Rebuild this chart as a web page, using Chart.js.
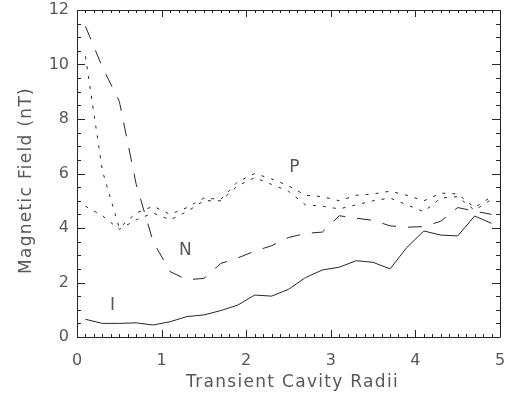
<!DOCTYPE html>
<html>
<head>
<meta charset="utf-8">
<script src="https://cdn.jsdelivr.net/npm/chart.js@4.4.1/dist/chart.umd.min.js"></script>
<style>
  html, body { margin: 0; padding: 0; background: #ffffff; overflow: hidden; }
  #wrap { width: 508px; height: 396px; position: relative; }
  canvas { display: block; }
</style>
</head>
<body>
<div id="wrap"><canvas id="chart"></canvas></div>
<script>
// Distance from the cavity centre, in transient cavity radii
const radii = [0.1, 0.3, 0.5, 0.7, 0.9, 1.1, 1.3, 1.5, 1.7, 1.9, 2.1, 2.3, 2.5,
               2.7, 2.9, 3.1, 3.3, 3.5, 3.7, 3.9, 4.1, 4.3, 4.5, 4.7, 4.9];

// Field magnitude (nT) for each case
const fieldI = [0.65, 0.50, 0.50, 0.52, 0.44, 0.56, 0.75, 0.81, 0.97, 1.17, 1.54, 1.50, 1.75,
                2.18, 2.46, 2.56, 2.80, 2.74, 2.50, 3.29, 3.89, 3.74, 3.71, 4.44, 4.17];
const fieldN = [11.4, 9.9, 8.65, 5.6, 3.5, 2.4, 2.1, 2.15, 2.7, 2.9, 3.15, 3.35, 3.65,
                3.8, 3.85, 4.45, 4.36, 4.28, 4.08, 4.03, 4.05, 4.25, 4.75, 4.62, 4.50];
const fieldPa = [10.3, 6.1, 4.0, 4.55, 4.8, 4.5, 4.75, 5.1, 5.05, 5.7, 6.0, 5.8, 5.55,
                 5.2, 5.15, 5.0, 5.2, 5.25, 5.35, 5.2, 5.0, 5.28, 5.25, 4.75, 5.15];
const fieldPb = [4.8, 4.45, 3.95, 4.3, 4.55, 4.3, 4.6, 5.0, 5.0, 5.55, 5.85, 5.6, 5.35,
                 4.85, 4.8, 4.7, 4.85, 5.0, 5.1, 4.85, 4.6, 5.1, 5.15, 4.65, 5.05];

// Axis tick labels
const xTicks = [0, 1, 2, 3, 4, 5];
const yTicks = [0, 2, 4, 6, 8, 10, 12];

// Curve labels: text and data position
const curveLabels = [
  { text: 'P', x: 2.57, y: 6.2 },
  { text: 'N', x: 1.28, y: 3.16 },
  { text: 'I', x: 0.42, y: 1.17 }
];

const xTitle = 'Transient Cavity Radii';
const yTitle = 'Magnetic Field (nT)';

const INK = '#262626';
const TEXT = '#585858';
const FONT_FAMILY = '"DejaVu Sans", "Liberation Sans", sans-serif';

function series(values) {
  return values.map((v, i) => ({ x: radii[i], y: v }));
}

// Box frame with inward ticks on all four sides, plus titles and curve labels
const framePlugin = {
  id: 'frame',
  afterDatasetsDraw(chart) {
    const { ctx, chartArea: a, scales: { x, y } } = chart;
    ctx.save();
    ctx.strokeStyle = INK;
    ctx.lineWidth = 1;
    ctx.beginPath();
    ctx.rect(Math.round(a.left) + 0.5, Math.round(a.top) + 0.5,
             Math.round(a.right - a.left), Math.round(a.bottom - a.top));
    ctx.stroke();

    ctx.beginPath();
    // x ticks: minor every 0.1, major every 1
    for (let k = 0; k <= 50; k++) {
      const v = k / 10;
      const px = Math.round(x.getPixelForValue(v)) + 0.5;
      const len = (k % 10 === 0) ? 7 : 3;
      ctx.moveTo(px, a.bottom); ctx.lineTo(px, a.bottom - len);
      ctx.moveTo(px, a.top); ctx.lineTo(px, a.top + len);
    }
    // y ticks: minor every 0.5, major every 2
    for (let k = 0; k <= 24; k++) {
      const v = k / 2;
      const py = Math.round(y.getPixelForValue(v)) + 0.5;
      const len = (k % 4 === 0) ? 8 : 4;
      ctx.moveTo(a.left, py); ctx.lineTo(a.left + len, py);
      ctx.moveTo(a.right, py); ctx.lineTo(a.right - len, py);
    }
    ctx.stroke();

    // curve labels
    ctx.fillStyle = TEXT;
    ctx.font = '17px ' + FONT_FAMILY;
    ctx.textAlign = 'center';
    ctx.textBaseline = 'middle';
    curveLabels.forEach(l => {
      ctx.fillText(l.text, x.getPixelForValue(l.x), y.getPixelForValue(l.y));
    });

    // axis titles
    ctx.letterSpacing = '1.3px';
    ctx.fillText(xTitle, (a.left + a.right) / 2 + 4, 383);
    ctx.translate(27, (a.top + a.bottom) / 2 + 7);
    ctx.rotate(-Math.PI / 2);
    ctx.fillText(yTitle, 0, 0);
    ctx.restore();
  }
};

const lineStyle = { borderColor: INK, borderWidth: 1, pointRadius: 0, tension: 0, fill: false };

new Chart(document.getElementById('chart'), {
  type: 'line',
  data: {
    datasets: [
      { label: 'I', data: series(fieldI), ...lineStyle },
      { label: 'N', data: series(fieldN), ...lineStyle, borderDash: [14, 12] },
      { label: 'P', data: series(fieldPa), ...lineStyle, borderDash: [3, 7] },
      { label: 'P', data: series(fieldPb), ...lineStyle, borderDash: [3, 7] }
    ]
  },
  options: {
    responsive: true,
    maintainAspectRatio: false,
    animation: false,
    events: [],
    layout: { padding: { left: 0, top: 10, right: 8, bottom: 0 } },
    plugins: { legend: { display: false }, tooltip: { enabled: false }, title: { display: false } },
    scales: {
      x: {
        type: 'linear',
        min: 0, max: 5,
        afterBuildTicks: s => { s.ticks = xTicks.map(v => ({ value: v })); },
        afterFit: s => { s.height = 59; s.paddingLeft = 0; s.paddingRight = 0; },
        grid: { display: false, drawTicks: false },
        border: { display: false },
        ticks: { color: TEXT, padding: 14, maxRotation: 0, font: { family: FONT_FAMILY, size: 16 } }
      },
      y: {
        type: 'linear',
        min: 0, max: 12,
        afterBuildTicks: s => { s.ticks = yTicks.map(v => ({ value: v })); },
        afterFit: s => { s.width = 77; s.paddingTop = 0; s.paddingBottom = 0; },
        grid: { display: false, drawTicks: false },
        border: { display: false },
        ticks: { color: TEXT, padding: 8, font: { family: FONT_FAMILY, size: 16 } }
      }
    }
  },
  plugins: [framePlugin]
});
</script>
</body>
</html>
